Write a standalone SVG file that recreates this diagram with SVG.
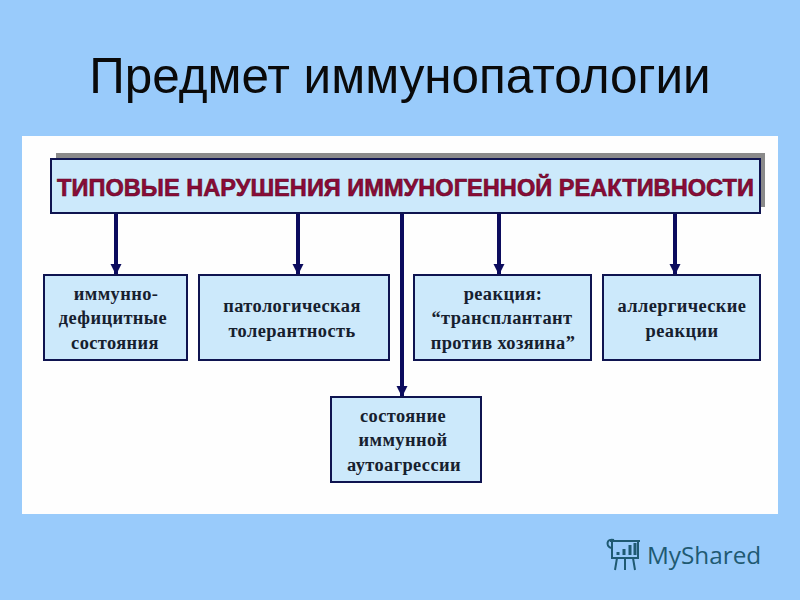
<svg xmlns="http://www.w3.org/2000/svg" width="800" height="600" viewBox="0 0 800 600">
<style>
.box{fill:#cce9fb;stroke:#0f1450;stroke-width:2}
.t{font-family:"Liberation Serif",serif;font-weight:bold;font-size:18.400px;fill:#16202e;text-anchor:middle;letter-spacing:.4px}
.c{stroke:#0c0c5e;stroke-width:4;fill:none;marker-end:url(#a)}
.h{font-family:"Liberation Sans",sans-serif;font-weight:bold;font-size:23.600px;fill:#8c0b36;stroke:#5a0a2a;stroke-width:.6px;text-anchor:middle}
</style>
<defs>
<marker id="a" markerUnits="userSpaceOnUse" markerWidth="12" markerHeight="12" refX="11" refY="6" orient="auto">
<path d="M0 0.500L11 6L0 11.500Z" fill="#0c0c5e"/>
</marker>
</defs>
<rect width="800" height="600" fill="#99cbfb"/>
<text x="400" y="93" font-family="Liberation Sans,sans-serif" font-size="49.400" fill="#0a0a0a" text-anchor="middle">Предмет иммунопатологии</text>
<rect x="22" y="136" width="756" height="378" fill="#fefefe"/>
<g id="connectors">
<path class="c" d="M116 213V275"/>
<path class="c" d="M298 213V275"/>
<path class="c" d="M499 213V275"/>
<path class="c" d="M675 213V275"/>
<path class="c" d="M402 213V397"/>
</g>
<g id="header">
<rect x="56" y="153" width="709" height="54" fill="#8a8a8a"/>
<rect class="box" x="51" y="159" width="709" height="54"/>
<text class="h" x="405.500" y="196">ТИПОВЫЕ НАРУШЕНИЯ ИММУНОГЕННОЙ РЕАКТИВНОСТИ</text>
</g>
<g id="n1">
<rect class="box" x="44" y="275" width="143" height="85"/>
<text class="t" x="116" y="300">иммунно-</text>
<text class="t" x="113" y="324">дефицитные</text>
<text class="t" x="115" y="349">состояния</text>
</g>
<g id="n2">
<rect class="box" x="199" y="275" width="190" height="85"/>
<text class="t" x="292" y="312">патологическая</text>
<text class="t" x="292" y="337">толерантность</text>
</g>
<g id="n3">
<rect class="box" x="414" y="275" width="177" height="85"/>
<text class="t" x="503" y="300">реакция:</text>
<text class="t" x="502" y="324">“трансплантант</text>
<text class="t" x="503" y="349">против хозяина”</text>
</g>
<g id="n4">
<rect class="box" x="603" y="275" width="157" height="85"/>
<text class="t" x="682" y="312">аллергические</text>
<text class="t" x="682" y="337">реакции</text>
</g>
<g id="n5">
<rect class="box" x="331" y="397" width="150" height="85"/>
<text class="t" x="403" y="422">состояние</text>
<text class="t" x="403" y="446">иммунной</text>
<text class="t" x="404" y="471">аутоагрессии</text>
</g>
<g id="logo" fill="none" stroke="#1f5a72" stroke-width="2">
<path d="M610 541H640M612 541V558H638V541M614 540C606 538 606 546 611 548"/>
<path d="M617 558L615 570M625 558V570M633 558L635 570"/>
<path d="M618 555V552M624 555V549M630 555V545M635 555V543" stroke-width="3"/>
</g>
<text x="647" y="564" font-family="Open Sans,sans-serif" font-size="24.300" fill="#1f5a72">MyShared</text>
</svg>
